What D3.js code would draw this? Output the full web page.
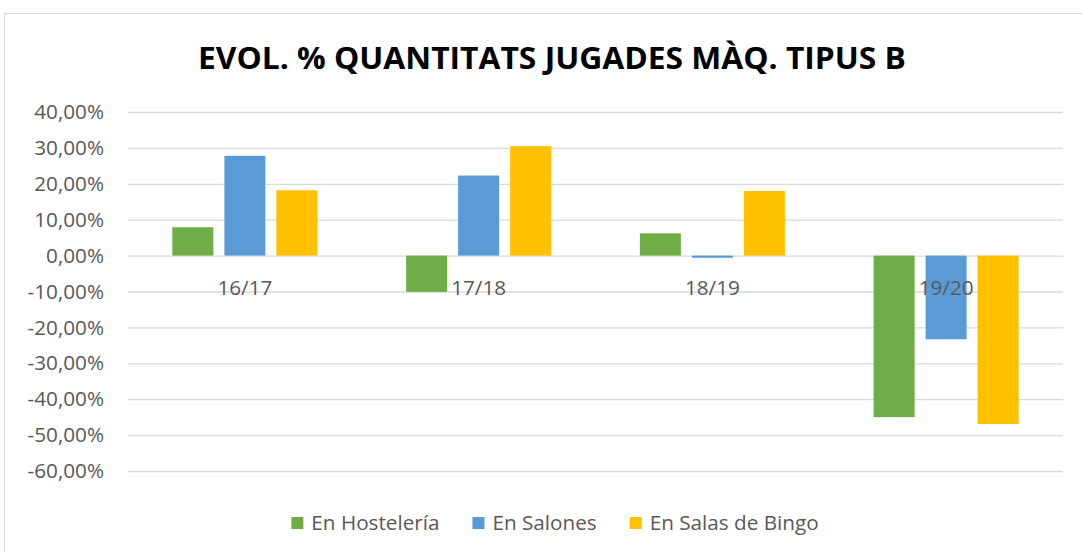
<!DOCTYPE html>
<html>
<head>
<meta charset="utf-8">
<script src="https://cdn.jsdelivr.net/npm/d3@7"></script>
<style>
  html, body { margin: 0; padding: 0; background: #fff; }
  svg { display: block; font-family: "Open Sans", "Noto Sans", sans-serif; }
</style>
</head>
<body>
<svg id="chart" width="1082" height="552"></svg>
<script>
// Season periods on the category axis
const periods = ["16/17", "17/18", "18/19", "19/20"];
// Series names (legend order)
const seriesNames = ["En Hostelería", "En Salones", "En Salas de Bingo"];
// Year-on-year change in amounts played, in percent
const hosteleria = [7.9, -10.1, 6.2, -45.0];
const salones = [27.8, 22.3, -0.6, -23.3];
const salasBingo = [18.2, 30.5, 18.0, -46.9];
// Value axis ticks (percent)
const yTicks = [40, 30, 20, 10, 0, -10, -20, -30, -40, -50, -60];
const titleText = "EVOL. % QUANTITATS JUGADES MÀQ. TIPUS B";

const colors = ["#70AD47", "#5B9BD5", "#FFC000"];
const seriesValues = [hosteleria, salones, salasBingo];
const labelSize = 20.7;

const svg = d3.select("#chart");
const W = 1082, H = 552;
const plot = { left: 128, right: 1063, top: 112, bottom: 471 };

// Chart frame
svg.append("rect")
  .attr("x", 4.5).attr("y", 13.5)
  .attr("width", W + 10).attr("height", H + 10)
  .attr("fill", "#fff").attr("stroke", "#D9D9D9").attr("stroke-width", 1);

// Title
const title = svg.append("text")
  .attr("x", (198 + 906) / 2).attr("y", 69)
  .attr("text-anchor", "middle")
  .attr("font-weight", "bold").attr("font-size", 30)
  .attr("fill", "#000")
  .text(titleText);
title.attr("textLength", 708).attr("lengthAdjust", "spacingAndGlyphs");

// Scales
const y = d3.scaleLinear().domain([-60, 40]).range([plot.bottom, plot.top]);
const x0 = d3.scaleBand().domain(periods).range([plot.left, plot.right]).padding(0);
const x1 = d3.scaleBand().domain(seriesNames)
  .range([0, x0.bandwidth()]).paddingInner(0.2115).paddingOuter(0.853);

const locale = d3.formatLocale({ decimal: ",", thousands: ".", grouping: [3], currency: ["", "€"], minus: "-", percent: "%" });
const pct = locale.format(".2%");

// Value axis with gridlines
const yAxis = svg.append("g")
  .attr("transform", `translate(${plot.left},0)`)
  .call(d3.axisLeft(y).tickValues(yTicks).tickFormat(d => pct(d / 100))
    .tickSizeInner(-(plot.right - plot.left)).tickSizeOuter(0).tickPadding(24));
yAxis.select(".domain").remove();
yAxis.selectAll(".tick line").attr("stroke", "#D9D9D9").attr("stroke-width", 1.3);
yAxis.selectAll(".tick text")
  .attr("fill", "#595959").attr("font-size", labelSize)
  .attr("font-family", "\"Open Sans\", sans-serif");

// Bars
const rows = periods.map((p, i) => ({ period: p, values: seriesNames.map((s, j) => ({ series: s, idx: j, v: seriesValues[j][i] })) }));
const groups = svg.append("g").selectAll("g").data(rows).join("g")
  .attr("transform", d => `translate(${x0(d.period)},0)`);
groups.selectAll("rect").data(d => d.values).join("rect")
  .attr("x", d => x1(d.series))
  .attr("width", x1.bandwidth())
  .attr("y", d => y(Math.max(0, d.v)))
  .attr("height", d => Math.abs(y(d.v) - y(0)))
  .attr("fill", d => colors[d.idx]);

// Category axis at zero
const xAxis = svg.append("g")
  .attr("transform", `translate(0,${y(0)})`)
  .call(d3.axisBottom(x0).tickSize(0).tickPadding(25));
xAxis.select(".domain").remove();
xAxis.selectAll(".tick text")
  .attr("fill", "#595959").attr("font-size", labelSize)
  .attr("font-family", "\"Open Sans\", sans-serif");

// Legend
const legend = svg.append("g");
const items = legend.selectAll("g").data(seriesNames).join("g");
items.append("rect").attr("width", 12).attr("height", 12).attr("y", 517)
  .attr("fill", (d, i) => colors[i]);
items.append("text").attr("y", 530).attr("font-size", labelSize).attr("fill", "#595959").text(d => d);
const swatchGap = 20, itemGap = 33;
let cursor = 0;
const offsets = [];
items.each(function () {
  const tw = d3.select(this).select("text").node().getComputedTextLength();
  offsets.push(cursor);
  cursor += swatchGap + tw + itemGap;
});
const totalW = cursor - itemGap;
const startX = 555 - totalW / 2;
items.each(function (d, i) {
  const g = d3.select(this);
  g.select("rect").attr("x", startX + offsets[i]);
  g.select("text").attr("x", startX + offsets[i] + swatchGap);
});
</script>
</body>
</html>
